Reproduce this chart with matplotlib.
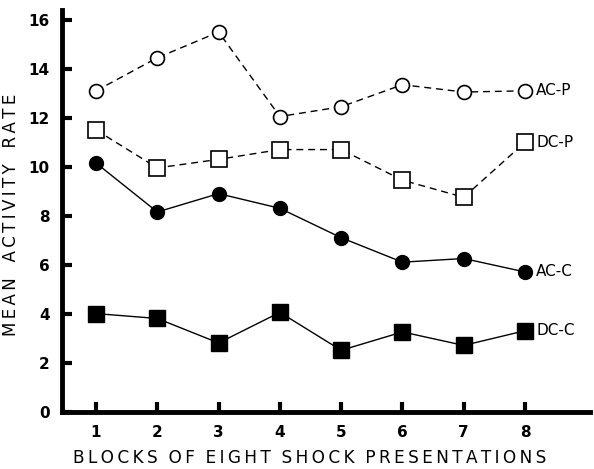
import matplotlib.pyplot as plt

# mean activity rate per block of eight shock presentations
blocks = [1, 2, 3, 4, 5, 6, 7, 8]
ac_p = [13.1, 14.45, 15.5, 12.05, 12.45, 13.35, 13.05, 13.1]
dc_p = [11.5, 9.95, 10.3, 10.7, 10.7, 9.45, 8.75, 11.0]
ac_c = [10.15, 8.15, 8.9, 8.3, 7.1, 6.1, 6.25, 5.7]
dc_c = [4.0, 3.8, 2.8, 4.05, 2.5, 3.25, 2.7, 3.3]
y_ticks = [0, 2, 4, 6, 8, 10, 12, 14, 16]

plt.rcParams['font.family'] = ['DejaVu Sans']


def spaced(text, gap):
    # widen the letter spacing with thin spaces
    return '\u2009'.join(text).replace('\u2009 \u2009', gap)


fig = plt.figure(figsize=(5.94, 4.69), dpi=100)
ax = fig.add_axes([0.1044, 0.1226, 0.8889, 0.856])

dash = (0, (5, 3.5))
ax.plot(blocks, ac_p, color='black', lw=1.0, linestyle=dash, marker='o', ms=10,
        mfc='white', mec='black', mew=1.2)
ax.plot(blocks, dc_p, color='black', lw=1.0, linestyle=dash, marker='s', ms=11,
        mfc='white', mec='black', mew=1.2)
ax.plot(blocks, ac_c, color='black', lw=1.0, marker='o', ms=10, mfc='black', mec='black')
ax.plot(blocks, dc_c, color='black', lw=1.0, marker='s', ms=11, mfc='black', mec='black')

# series names next to the last point
for vals, name in [(ac_p, 'AC-P'), (dc_p, 'DC-P'), (ac_c, 'AC-C'), (dc_c, 'DC-C')]:
    ax.annotate(name, (blocks[-1], vals[-1]), xytext=(8, 0), textcoords='offset points',
                ha='left', va='center', fontsize=11)

ax.set_xlim(0.445, 9.06)
ax.set_ylim(0, 16.4)
ax.set_xticks(blocks)
ax.set_yticks(y_ticks)
ax.tick_params(direction='in', length=7, width=3, labelsize=11)
ax.tick_params(axis='x', pad=10)
ax.tick_params(axis='y', pad=9)
for lbl in ax.get_xticklabels() + ax.get_yticklabels():
    lbl.set_fontweight('bold')

for side in ['top', 'right']:
    ax.spines[side].set_visible(False)
for side in ['left', 'bottom']:
    ax.spines[side].set_linewidth(3.5)

ax.set_xlabel(spaced('BLOCKS OF EIGHT SHOCK PRESENTATIONS', '  '), fontsize=12.2)
ax.xaxis.set_label_coords(0.47, -0.093)
ax.set_ylabel(spaced('MEAN ACTIVITY RATE', '   '), fontsize=12)
ax.yaxis.set_label_coords(-0.079, 0.49)

fig.savefig('out.png', dpi=100)
